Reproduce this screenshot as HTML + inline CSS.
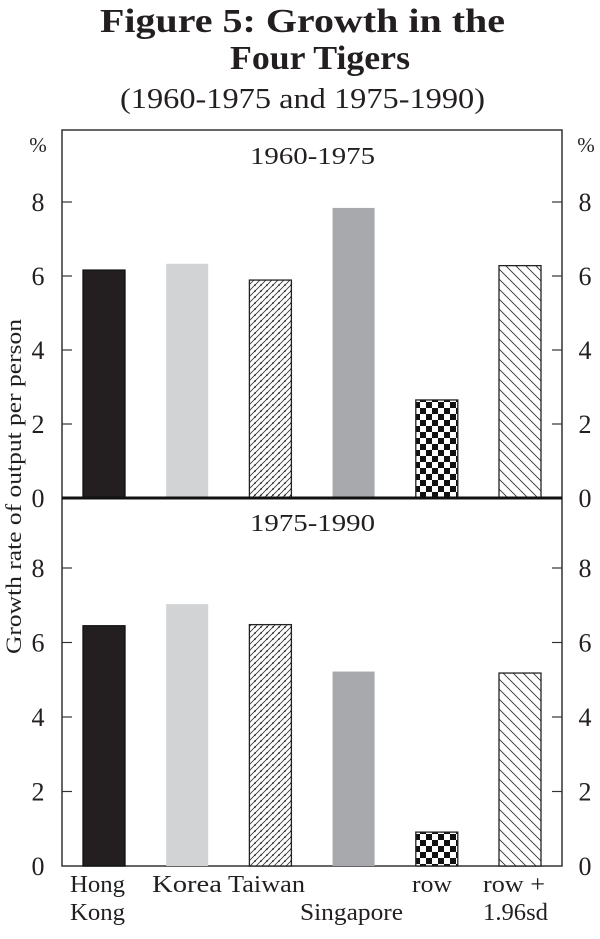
<!DOCTYPE html>
<html><head><meta charset="utf-8"><style>
body{margin:0;background:#fff;}
svg text{font-family:"Liberation Serif",serif;fill:#231f20;}
</style></head><body>
<svg width="600" height="934" viewBox="0 0 600 934" xmlns="http://www.w3.org/2000/svg">
<defs>
<pattern id="pTaiwan" width="6" height="6" patternUnits="userSpaceOnUse"><rect width="6" height="6" fill="#fff"/><path d="M-1,7 L7,-1 M-4,4 L4,-4 M2,10 L10,2" stroke="#333" stroke-width="0.8"/><circle cx="3" cy="3" r="0.8" fill="#000"/></pattern>
<pattern id="pCheck" width="12" height="12" patternUnits="userSpaceOnUse"><rect width="12" height="12" fill="#fff"/><rect x="0" y="0" width="6" height="6" fill="#111"/><rect x="6" y="6" width="6" height="6" fill="#111"/></pattern>
<pattern id="pHatch" width="10" height="10" patternUnits="userSpaceOnUse"><rect width="10" height="10" fill="#fff"/><path d="M0,0 L10,10 M-5,5 L5,15 M5,-5 L15,5" stroke="#333" stroke-width="0.9"/></pattern>
</defs>
<text x="100" y="32" textLength="405" lengthAdjust="spacingAndGlyphs" font-size="34" font-weight="bold">Figure 5: Growth in the</text>
<text x="230" y="69" textLength="180" lengthAdjust="spacingAndGlyphs" font-size="34" font-weight="bold">Four Tigers</text>
<text x="120" y="108" textLength="365" lengthAdjust="spacingAndGlyphs" font-size="29">(1960-1975 and 1975-1990)</text>
<rect x="62" y="130" width="500" height="736" fill="none" stroke="#333" stroke-width="1.5"/>
<text x="38" y="152" text-anchor="middle" font-size="21">%</text>
<text x="586" y="152" text-anchor="middle" font-size="21">%</text>
<text x="250" y="164" textLength="125" lengthAdjust="spacingAndGlyphs" font-size="24">1960-1975</text>
<text x="250" y="531" textLength="125" lengthAdjust="spacingAndGlyphs" font-size="24">1975-1990</text>
<text transform="translate(21,487) rotate(-90)" x="-167" y="0" textLength="335" lengthAdjust="spacingAndGlyphs" font-size="22">Growth rate of output per person</text>
<g id="marks"></g>
<line x1="62" y1="498" x2="562" y2="498" stroke="#111" stroke-width="3"/>
</svg>
<script>
const categories=["Hong Kong","Korea","Taiwan","Singapore","row","row + 1.96sd"];
const values1960=[6.16,6.33,5.89,7.84,2.65,6.28];
const values1975=[6.45,7.03,6.48,5.22,0.91,5.18];
const ticks=[0,2,4,6,8];
const fills=["#231f20","#d1d3d4","url(#pTaiwan)","#a7a9ac","url(#pCheck)","url(#pHatch)"];
const strokes=["#111","none","#222","none","#222","#222"];
const NS="http://www.w3.org/2000/svg";
const g=document.getElementById('marks');
const xLeft=i=>83+i*83.2;
const barW=42;
const yTop=v=>498-v*37;
const yBot=v=>866-v*37.25;
function mk(tag,attrs){const e=document.createElementNS(NS,tag);for(const k in attrs)e.setAttribute(k,attrs[k]);g.appendChild(e);return e;}
[[values1960,yTop,'top'],[values1975,yBot,'bottom']].forEach(([vals,ys,p])=>{
  ticks.forEach(t=>{
    const y=ys(t);
    if(t>0){
      const a=mk('line',{x1:62,x2:72,y1:y,y2:y,stroke:'#333','stroke-width':1.2});
      
      
      const b=mk('line',{x1:552,x2:562,y1:y,y2:y,stroke:'#333','stroke-width':1.2});
      
      
    }
    const l=mk('text',{x:38,y:y+9,'text-anchor':'middle','font-size':26});
    l.textContent=t;
    
    
    const r=mk('text',{x:585,y:y+9,'text-anchor':'middle','font-size':26});
    r.textContent=t;
    
    
  });
  vals.forEach((v,i)=>{
    const y=ys(v),y0=ys(0);
    const attrs={x:xLeft(i),y:y,width:barW,height:y0-y,fill:fills[i]};
    if(strokes[i]!=='none'){attrs.stroke=strokes[i];attrs['stroke-width']=1.3;}
    const b=mk('rect',attrs);
    
    
  });
});
const labelText=["Hong","Kong","Korea","Taiwan","Singapore","row","row +","1.96sd"];
const labelBox=[[70,892,55],[70,920,55],[152,892,70],[228,892,77],[300,920,103],[412,892,40],[483,892,62],[483,920,65]];
labelText.forEach((t,i)=>{
  const e=mk('text',{x:labelBox[i][0],y:labelBox[i][1],textLength:labelBox[i][2],lengthAdjust:'spacingAndGlyphs','font-size':24});
  e.textContent=t;
  
  
});
</script>
</body></html>
